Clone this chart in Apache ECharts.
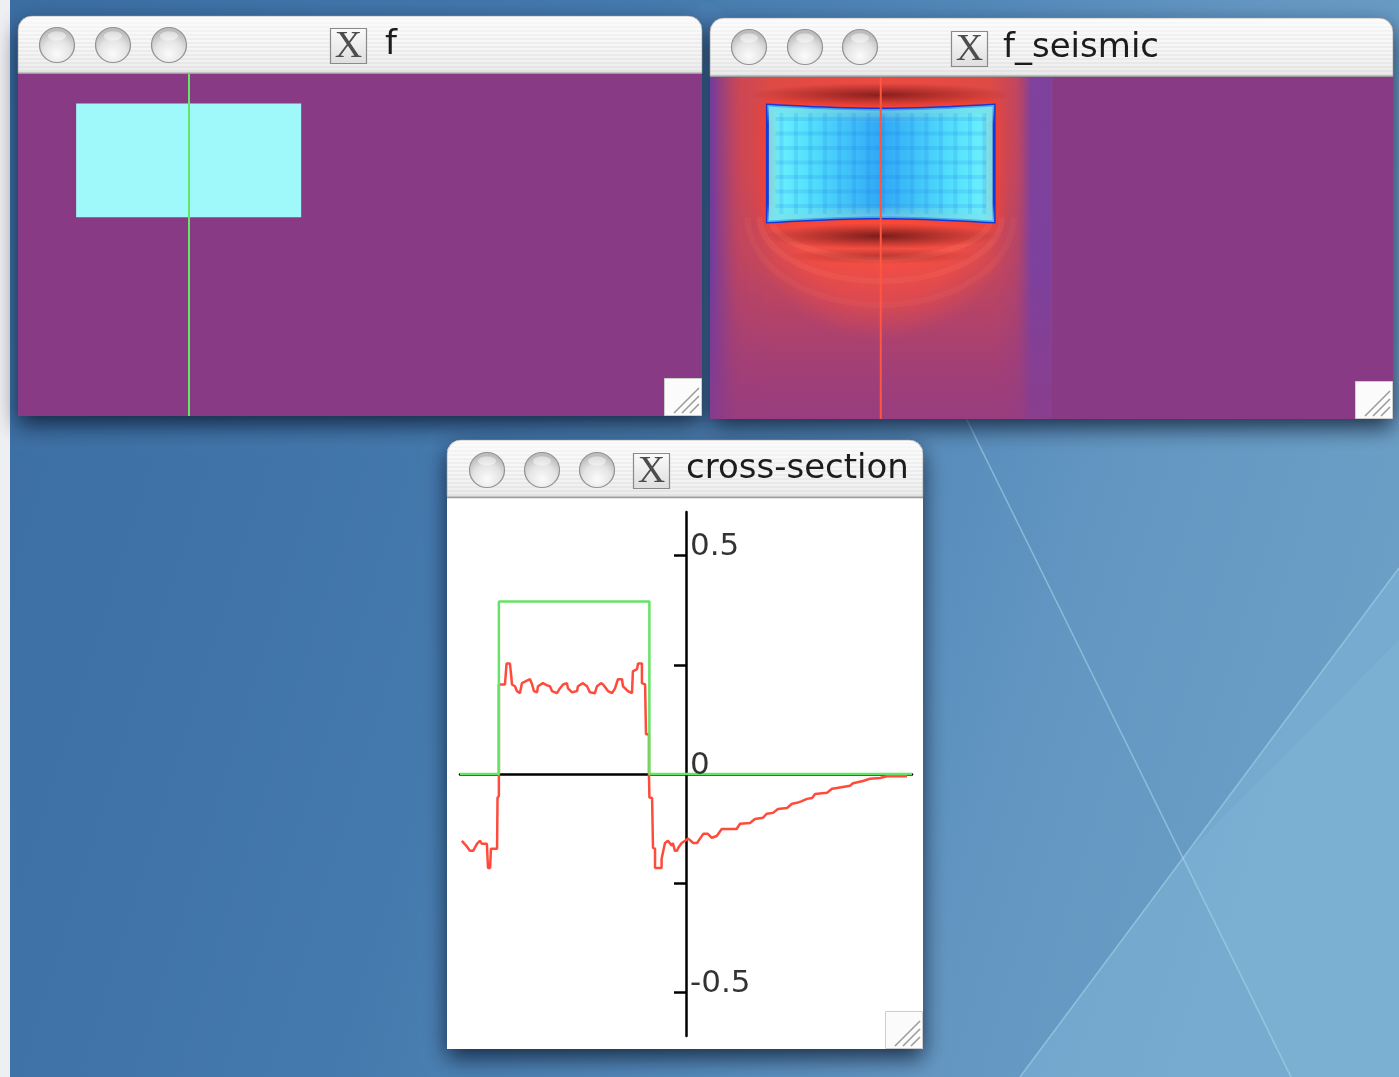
<!DOCTYPE html>
<html>
<head>
<meta charset="utf-8">
<title>f, f_seismic, cross-section</title>
<script src="https://cdn.jsdelivr.net/npm/echarts@6/dist/echarts.min.js"></script>
<style>
  html, body { margin: 0; padding: 0; background: #4577aa; overflow: hidden; }
  #main { width: 1399px; height: 1077px; }
</style>
</head>
<body>
<div id="main"></div>
<script>
// ---- model on the unit square (x across, y = depth, 0 at top) ----
const blockX = [0.085, 0.414];        // rectangular anomaly in f
const blockY = [0.086, 0.419];
const blockValue = 0.395;              // amplitude of f inside the block
const cutX = 0.25;                     // position of the vertical cut

// seismic image of the block and the width of the disturbed zone
const seisBlockX = [0.084, 0.416];
const seisBlockY = [0.082, 0.424];
const seisZoneX = [0, 0.5];

// ---- cross-section along the cut; depth mapped to [-1, 1] ----
const seisDepth = [
  -0.992, -0.973, -0.956, -0.942, -0.925, -0.912, -0.903, -0.881, -0.878, -0.876,
  -0.867, -0.863, -0.836, -0.834, -0.828, -0.828, -0.828, -0.828, -0.801, -0.794,
  -0.779, -0.774, -0.770, -0.757, -0.748, -0.735, -0.726, -0.690, -0.681, -0.673,
  -0.659, -0.655, -0.633, -0.615, -0.602, -0.593, -0.571, -0.558, -0.544, -0.527,
  -0.522, -0.504, -0.482, -0.478, -0.456, -0.438, -0.425, -0.403, -0.394, -0.376,
  -0.367, -0.345, -0.327, -0.314, -0.301, -0.283, -0.279, -0.257, -0.239, -0.235,
  -0.217, -0.212, -0.195, -0.195, -0.181, -0.177, -0.164, -0.164, -0.162, -0.150,
  -0.146, -0.137, -0.137, -0.108, -0.108, -0.102, -0.093, -0.080, -0.063, -0.058,
  -0.049, -0.040, -0.034, -0.019, -0.004, 0.010, 0.032, 0.049, 0.062, 0.077,
  0.097, 0.114, 0.136, 0.158, 0.224, 0.239, 0.283, 0.305, 0.341, 0.358,
  0.385, 0.407, 0.447, 0.469, 0.491, 0.513, 0.535, 0.558, 0.571, 0.624,
  0.646, 0.668, 0.726, 0.739, 0.783, 0.814, 0.858, 0.889, 0.978
];
const seisValue = [
  -0.153, -0.164, -0.176, -0.176, -0.160, -0.153, -0.160, -0.160, -0.194, -0.215,
  -0.215, -0.171, -0.171, -0.055, -0.050, 0.000, 0.091, 0.205, 0.205, 0.253,
  0.253, 0.228, 0.205, 0.201, 0.190, 0.185, 0.208, 0.217, 0.205, 0.190,
  0.187, 0.201, 0.208, 0.203, 0.201, 0.190, 0.185, 0.196, 0.205, 0.208,
  0.196, 0.187, 0.190, 0.201, 0.208, 0.201, 0.187, 0.185, 0.201, 0.208,
  0.205, 0.190, 0.185, 0.196, 0.217, 0.217, 0.201, 0.190, 0.185, 0.235,
  0.240, 0.253, 0.253, 0.208, 0.205, 0.091, 0.091, 0.000, -0.054, -0.055,
  -0.169, -0.171, -0.215, -0.215, -0.194, -0.194, -0.158, -0.153, -0.164, -0.158,
  -0.176, -0.176, -0.169, -0.158, -0.153, -0.148, -0.158, -0.158, -0.148, -0.137,
  -0.137, -0.146, -0.142, -0.126, -0.126, -0.114, -0.112, -0.103, -0.100, -0.091,
  -0.089, -0.080, -0.078, -0.068, -0.066, -0.062, -0.057, -0.055, -0.046, -0.043,
  -0.034, -0.032, -0.027, -0.021, -0.016, -0.011, -0.009, -0.005, -0.005
];
const yTickValues = [-0.5, -0.25, 0.25, 0.5];
const yLabelValues = [-0.5, 0, 0.5];

// f along the cut: zero outside the block, blockValue inside
const fProfile = [
  [-1, 0],
  [2 * blockY[0] - 1, 0],
  [2 * blockY[0] - 1, blockValue],
  [2 * blockY[1] - 1, blockValue],
  [2 * blockY[1] - 1, 0],
  [1, 0]
];
const seisProfile = seisDepth.map((d, i) => [d, seisValue[i]]);

// ---- window layout ----
const windows = [
  { title: 'f', x: 18, y: 16, w: 684, h: 400, bar: 57, btnY: 45, btnX: [57, 113, 169], icon: [330, 28], textX: 385, textY: 45, content: '#893a85' },
  { title: 'f_seismic', x: 710, y: 18, w: 683, h: 401, bar: 58, btnY: 47, btnX: [749, 805, 860], icon: [951, 31], textX: 1003, textY: 48, content: '#893a85' },
  { title: 'cross-section', x: 447, y: 440, w: 476, h: 609, bar: 57, btnY: 470, btnX: [487, 542, 597], icon: [633, 453], textX: 686, textY: 469, content: '#ffffff' }
];

const PURPLE = '#893a85';
const FONT = '"DejaVu Sans", "Noto Sans", sans-serif';

// pinstripe fill for the title bars
const stripe = document.createElement('canvas');
stripe.width = 4; stripe.height = 4;
const sctx = stripe.getContext('2d');
sctx.fillStyle = '#e9e9e9'; sctx.fillRect(0, 0, 4, 4);
sctx.fillStyle = '#f5f5f5'; sctx.fillRect(0, 0, 4, 2);

function chrome(win) {
  const els = [];
  const r = 14;
  // window body with drop shadow
  els.push({
    type: 'rect', z: 1,
    shape: { x: win.x, y: win.y, width: win.w, height: win.h, r: [r, r, 0, 0] },
    style: { fill: win.content, shadowBlur: 22, shadowOffsetY: 9, shadowColor: 'rgba(5,15,35,0.75)' }
  });
  // title bar
  els.push({
    type: 'rect', z: 2,
    shape: { x: win.x, y: win.y, width: win.w, height: win.bar, r: [r, r, 0, 0] },
    style: { fill: { image: stripe, repeat: 'repeat' } }
  });
  els.push({
    type: 'rect', z: 2,
    shape: { x: win.x, y: win.y, width: win.w, height: win.bar, r: [r, r, 0, 0] },
    style: {
      fill: { type: 'linear', x: 0, y: 0, x2: 0, y2: 1, colorStops: [
        { offset: 0, color: 'rgba(255,255,255,0.75)' },
        { offset: 0.5, color: 'rgba(255,255,255,0.15)' },
        { offset: 1, color: 'rgba(210,210,210,0.35)' }
      ] },
      stroke: 'rgba(150,150,150,0.6)', lineWidth: 1
    }
  });
  els.push({
    type: 'line', z: 3,
    shape: { x1: win.x, y1: win.y + win.bar + 0.5, x2: win.x + win.w, y2: win.y + win.bar + 0.5 },
    style: { stroke: '#9c9c9c', lineWidth: 1.5 }
  });
  // the three inactive window buttons
  win.btnX.forEach(bx => {
    els.push({
      type: 'circle', z: 3,
      shape: { cx: bx, cy: win.btnY, r: 17.5 },
      style: {
        fill: { type: 'radial', x: 0.5, y: 0.75, r: 0.65, colorStops: [
          { offset: 0, color: '#fbfbfb' },
          { offset: 0.6, color: '#e4e4e4' },
          { offset: 1, color: '#bdbdbd' }
        ] },
        stroke: '#939393', lineWidth: 1.2
      }
    });
    els.push({
      type: 'ellipse', z: 3,
      shape: { cx: bx, cy: win.btnY - 9, rx: 9, ry: 4.5 },
      style: { fill: 'rgba(255,255,255,0.45)' }
    });
  });
  // X11 icon
  els.push({
    type: 'rect', z: 3,
    shape: { x: win.icon[0] + 0.5, y: win.icon[1] + 0.5, width: 36, height: 35 },
    style: {
      fill: { type: 'linear', x: 0, y: 0, x2: 0, y2: 1, colorStops: [
        { offset: 0, color: '#fbfbfb' }, { offset: 1, color: '#dedede' }
      ] },
      stroke: '#8a8a8a', lineWidth: 1.2
    }
  });
  els.push({
    type: 'text', z: 4,
    style: {
      text: 'X', x: win.icon[0] + 18.5, y: win.icon[1] + 19,
      font: '38px "Liberation Serif", "DejaVu Serif", serif',
      fill: '#4d4d4d', align: 'center', verticalAlign: 'middle',
      textAlign: 'center', textVerticalAlign: 'middle'
    }
  });
  els.push({
    type: 'text', z: 4,
    style: {
      text: win.title, x: win.textX, y: win.textY,
      font: '34px ' + FONT, fill: '#1c1c1c',
      verticalAlign: 'middle', textVerticalAlign: 'middle'
    }
  });
  // resize grip
  const s = 37, gx = win.x + win.w - s - 1, gy = win.y + win.h - s - 1;
  els.push({
    type: 'rect', z: 20,
    shape: { x: gx + 0.5, y: gy + 0.5, width: s, height: s },
    style: { fill: '#fbfbfb', stroke: '#cdcdcd', lineWidth: 1 }
  });
  [10, 18, 26].forEach(k => {
    els.push({
      type: 'line', z: 21,
      shape: { x1: gx + s - 2, y1: gy + k, x2: gx + k, y2: gy + s - 2 },
      style: { stroke: '#9b9b9b', lineWidth: 1.6 }
    });
    els.push({
      type: 'line', z: 21,
      shape: { x1: gx + s - 2, y1: gy + k + 2.5, x2: gx + k + 2.5, y2: gy + s - 2 },
      style: { stroke: '#ffffff', lineWidth: 1 }
    });
  });
  return els;
}

// desktop backdrop
const W = 1399, H = 1077;
const desktop = [
  {
    type: 'rect', z: -10,
    shape: { x: 0, y: 0, width: W, height: H },
    style: { fill: { type: 'linear', x: 0, y: 0.1, x2: 1, y2: 0.5, colorStops: [
      { offset: 0, color: '#3b6da2' },
      { offset: 0.4, color: '#4479ad' },
      { offset: 0.62, color: '#5287b8' },
      { offset: 0.8, color: '#6396c1' },
      { offset: 1, color: '#6c9fc6' }
    ] } }
  },
  {
    type: 'polygon', z: -9,
    shape: { points: [[1399, 568], [1020, 1077], [1399, 1077]] },
    style: { fill: 'rgba(150,205,232,0.28)' }
  },
  {
    type: 'polygon', z: -9,
    shape: { points: [[1183, 858], [1291, 1077], [1399, 1077], [1399, 640]] },
    style: { fill: 'rgba(160,210,235,0.12)' }
  },
  {
    type: 'line', z: -8,
    shape: { x1: 957, y1: 400, x2: 1291, y2: 1077 },
    style: { stroke: 'rgba(175,215,235,0.55)', lineWidth: 1.6 }
  },
  {
    type: 'line', z: -8,
    shape: { x1: 1399, y1: 568, x2: 1020, y2: 1077 },
    style: { stroke: 'rgba(175,215,235,0.55)', lineWidth: 1.6 }
  },
  {
    type: 'rect', z: -7,
    shape: { x: 0, y: 0, width: 10, height: H },
    style: { fill: '#eeeff2' }
  }
];

let graphicElements = desktop.slice();
windows.forEach(w => { graphicElements = graphicElements.concat(chrome(w)); });

// ---- drawing of the block in f ----
function renderBlock(params, api) {
  const p0 = api.coord([api.value(0), api.value(2)]);
  const p1 = api.coord([api.value(1), api.value(3)]);
  return {
    type: 'rect',
    shape: { x: p0[0], y: p0[1], width: p1[0] - p0[0], height: p1[1] - p0[1] },
    style: { fill: '#9ff8fa' }
  };
}

// elliptical soft spot built from a scaled circle
function glow(cx, cy, rx, ry, stops) {
  return {
    type: 'circle', shape: { cx: 0, cy: 0, r: 100 },
    x: cx, y: cy, scaleX: rx / 100, scaleY: ry / 100,
    style: { fill: { type: 'radial', x: 0.5, y: 0.5, r: 0.5, colorStops: stops } }
  };
}

// lower half of an ellipse as a polyline
function lowerArc(cx, cy, rx, ry) {
  const pts = [];
  for (let i = 0; i <= 40; i++) {
    const t = Math.PI * i / 40;
    pts.push([cx + rx * Math.cos(t), cy + ry * Math.sin(t)]);
  }
  return pts;
}

// ---- drawing of the migrated (seismic) image ----
function renderSeismic(params, api) {
  const a = api.coord([api.value(0), api.value(2)]);
  const b = api.coord([api.value(1), api.value(3)]);
  const z0 = api.coord([seisZoneX[0], 0]);
  const z1 = api.coord([seisZoneX[1], 1]);
  const zw = z1[0] - z0[0], zh = z1[1] - z0[1];
  const cx = (a[0] + b[0]) / 2;
  const bw = b[0] - a[0], bh = b[1] - a[1];
  const kids = [];

  // zone base: red at the top, fading to magenta at depth
  kids.push({
    type: 'rect', shape: { x: z0[0], y: z0[1], width: zw, height: zh },
    style: { fill: { type: 'linear', x: 0, y: 0, x2: 0, y2: 1, colorStops: [
      { offset: 0, color: '#dc4a46' },
      { offset: 0.45, color: '#cf4852' },
      { offset: 0.7, color: '#b94464' },
      { offset: 1, color: '#9c3e7c' }
    ] } }
  });
  // red wave field around and below the block
  kids.push(glow(cx, a[1] + bh * 0.45, bw * 0.68, bh * 1.05, [
    { offset: 0, color: 'rgba(240,74,64,1)' },
    { offset: 0.6, color: 'rgba(238,74,64,0.8)' },
    { offset: 1, color: 'rgba(238,74,64,0)' }
  ]));
  kids.push(glow(cx, b[1] + 8, bw * 0.56, 110, [
    { offset: 0, color: 'rgba(250,80,66,0.95)' },
    { offset: 0.65, color: 'rgba(248,78,64,0.7)' },
    { offset: 1, color: 'rgba(248,78,64,0)' }
  ]));
  // ringing: faint arcs below the block
  [30, 52, 76].forEach((d, i) => {
    kids.push({
      type: 'polyline', shape: { points: lowerArc(cx, b[1] - 5, bw * 0.42 + d * 0.5, d + 12) },
      style: { fill: 'none', stroke: 'rgba(255,120,100,' + (0.26 - i * 0.07) + ')', lineWidth: 6 }
    });
  });
  // violet side borders of the zone
  kids.push({
    type: 'rect', shape: { x: z0[0], y: z0[1], width: zw, height: zh },
    style: { fill: { type: 'linear', x: 0, y: 0, x2: 1, y2: 0, colorStops: [
      { offset: 0, color: 'rgba(104,58,166,0.95)' },
      { offset: 0.03, color: 'rgba(112,58,160,0.65)' },
      { offset: 0.09, color: 'rgba(160,62,120,0.25)' },
      { offset: 0.18, color: 'rgba(160,62,120,0)' },
      { offset: 0.82, color: 'rgba(160,62,120,0)' },
      { offset: 0.9, color: 'rgba(140,62,140,0.35)' },
      { offset: 0.94, color: 'rgba(112,64,170,0.85)' },
      { offset: 1, color: 'rgba(116,64,164,0.9)' }
    ] } }
  });
  // magenta haze towards the bottom
  kids.push({
    type: 'rect', shape: { x: z0[0], y: z0[1] + zh * 0.55, width: zw, height: zh * 0.45 },
    style: { fill: { type: 'linear', x: 0, y: 0, x2: 0, y2: 1, colorStops: [
      { offset: 0, color: 'rgba(158,62,120,0)' },
      { offset: 1, color: 'rgba(150,60,128,0.6)' }
    ] } }
  });
  // dark bands hugging the top and bottom of the block
  kids.push(glow(cx, a[1] - 10, bw * 0.58, 12, [
    { offset: 0, color: 'rgba(120,24,24,0.85)' },
    { offset: 1, color: 'rgba(120,24,24,0)' }
  ]));
  kids.push(glow(cx, b[1] + 14, bw * 0.52, 13, [
    { offset: 0, color: 'rgba(110,22,22,0.9)' },
    { offset: 1, color: 'rgba(110,22,22,0)' }
  ]));
  kids.push(glow(cx, b[1] + 34, bw * 0.42, 8, [
    { offset: 0, color: 'rgba(120,28,28,0.45)' },
    { offset: 1, color: 'rgba(120,28,28,0)' }
  ]));

  // the block itself, edges slightly pinched
  const sag = 4, pts = [];
  for (let i = 0; i <= 20; i++) {
    const t = i / 20;
    pts.push([a[0] + bw * t, a[1] + sag * Math.sin(Math.PI * t)]);
  }
  for (let i = 20; i >= 0; i--) {
    const t = i / 20;
    pts.push([a[0] + bw * t, b[1] - sag * Math.sin(Math.PI * t)]);
  }
  kids.push({
    type: 'polygon', shape: { points: pts },
    style: {
      fill: { type: 'linear', x: 0, y: 0, x2: 1, y2: 0, colorStops: [
        { offset: 0, color: '#72f7ff' },
        { offset: 0.2, color: '#52defc' },
        { offset: 0.5, color: '#30a8f6' },
        { offset: 0.8, color: '#52defc' },
        { offset: 1, color: '#72f7ff' }
      ] },
      stroke: '#1638d6', lineWidth: 3,
      shadowBlur: 12, shadowColor: 'rgba(255,60,40,0.9)'
    }
  });
  kids.push({
    type: 'polygon', shape: { points: pts },
    style: { fill: { type: 'linear', x: 0, y: 0, x2: 0, y2: 1, colorStops: [
      { offset: 0, color: 'rgba(110,245,255,0.7)' },
      { offset: 0.16, color: 'rgba(110,245,255,0)' },
      { offset: 0.84, color: 'rgba(110,245,255,0)' },
      { offset: 1, color: 'rgba(110,245,255,0.7)' }
    ] } }
  });
  // faint grid texture inside the block
  for (let gxp = a[0] + 14; gxp < b[0] - 6; gxp += 14.5) {
    kids.push({ type: 'line', shape: { x1: gxp, y1: a[1] + 8, x2: gxp, y2: b[1] - 8 },
      style: { stroke: 'rgba(20,110,230,0.14)', lineWidth: 4 } });
  }
  for (let gyp = a[1] + 14; gyp < b[1] - 6; gyp += 14.5) {
    kids.push({ type: 'line', shape: { x1: a[0] + 8, y1: gyp, x2: b[0] - 8, y2: gyp },
      style: { stroke: 'rgba(20,110,230,0.14)', lineWidth: 4 } });
  }
  return { type: 'group', children: kids };
}

const chart = echarts.init(document.getElementById('main'), null, { renderer: 'canvas', width: W, height: H });

chart.setOption({
  animation: false,
  graphic: { elements: graphicElements },
  grid: [
    { left: 18, top: 74, width: 684, height: 342, show: true, backgroundColor: PURPLE, borderWidth: 0, z: 5 },
    { left: 710, top: 77, width: 683, height: 342, show: true, backgroundColor: PURPLE, borderWidth: 0, z: 5 },
    { left: 460, top: 512, width: 452, height: 524, show: false }
  ],
  xAxis: [
    { gridIndex: 0, type: 'value', min: 0, max: 1, show: false },
    { gridIndex: 1, type: 'value', min: 0, max: 1, show: false },
    {
      gridIndex: 2, type: 'value', min: -1, max: 1, z: 5,
      axisLine: { show: true, onZero: true, lineStyle: { color: '#000', width: 2.5 } },
      axisTick: { show: false }, axisLabel: { show: false }, splitLine: { show: false }
    }
  ],
  yAxis: [
    { gridIndex: 0, type: 'value', min: 0, max: 1, inverse: true, show: false },
    { gridIndex: 1, type: 'value', min: 0, max: 1, inverse: true, show: false },
    {
      gridIndex: 2, type: 'value', min: -0.6, max: 0.6, z: 5,
      axisLine: { show: true, onZero: true, lineStyle: { color: '#000', width: 2.5 } },
      axisTick: { show: true, length: 12, customValues: yTickValues, lineStyle: { color: '#000', width: 2.5 } },
      axisLabel: { show: false },
      splitLine: { show: false }
    }
  ],
  series: [
    {
      type: 'custom', name: 'f', xAxisIndex: 0, yAxisIndex: 0, z: 6, clip: true,
      renderItem: renderBlock,
      data: [[blockX[0], blockX[1], blockY[0], blockY[1]]]
    },
    {
      type: 'line', name: 'cut f', xAxisIndex: 0, yAxisIndex: 0, z: 7,
      symbol: 'none', lineStyle: { color: '#66e466', width: 2 },
      data: [[cutX, 0], [cutX, 1]]
    },
    {
      type: 'custom', name: 'f_seismic', xAxisIndex: 1, yAxisIndex: 1, z: 6, clip: true,
      renderItem: renderSeismic,
      data: [[seisBlockX[0], seisBlockX[1], seisBlockY[0], seisBlockY[1]]]
    },
    {
      type: 'line', name: 'cut f_seismic', xAxisIndex: 1, yAxisIndex: 1, z: 7,
      symbol: 'none', lineStyle: { color: '#ff5640', width: 2 },
      data: [[cutX, 0], [cutX, 1]]
    },
    {
      type: 'line', name: 'seismic section', xAxisIndex: 2, yAxisIndex: 2, z: 8,
      symbol: 'none', lineStyle: { color: '#ff4b3b', width: 2.5 },
      data: seisProfile
    },
    {
      type: 'line', name: 'f section', xAxisIndex: 2, yAxisIndex: 2, z: 9,
      symbol: 'none', lineStyle: { color: '#66e466', width: 2.5 },
      data: fProfile
    },
    {
      // value labels placed beside the vertical axis
      type: 'scatter', name: 'axis labels', xAxisIndex: 2, yAxisIndex: 2, z: 10,
      symbolSize: 0, silent: true,
      data: yLabelValues.map(v => [0, v]),
      label: {
        show: true, position: [4, 7],
        formatter: p => (p.value[1] === 0 ? '0' : String(p.value[1])),
        fontSize: 31, fontFamily: FONT, color: '#000',
        align: 'left', verticalAlign: 'bottom'
      }
    }
  ]
});
</script>
</body>
</html>
